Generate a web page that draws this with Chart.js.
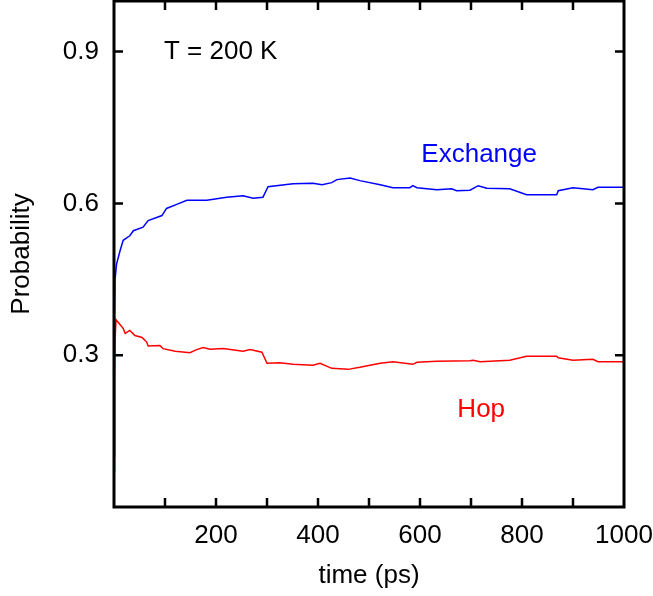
<!DOCTYPE html>
<html>
<head>
<meta charset="utf-8">
<script src="https://cdn.jsdelivr.net/npm/chart.js@4.4.1/dist/chart.umd.min.js"></script>
<style>
  html, body { margin: 0; padding: 0; background: #fff; }
  #wrap { width: 653px; height: 596px; }
</style>
</head>
<body>
<div id="wrap"><canvas id="probChart"></canvas></div>
<script>
const exchangeTime = [0, 1, 2, 5, 12, 18, 31, 38, 57, 67, 94, 103, 123, 143, 182, 221, 253, 273, 292, 302,
  351, 390, 408, 427, 437, 463, 482, 522, 547, 580, 586, 594, 633, 662, 672, 698, 714, 731, 776, 809,
  868, 871, 900, 939, 949, 1000];
const exchangeProb = [0.10, 0.35, 0.45, 0.48, 0.507, 0.527, 0.536, 0.546, 0.553, 0.566, 0.576, 0.59, 0.598, 0.606, 0.606, 0.612, 0.615, 0.61, 0.612, 0.633,
  0.639, 0.64, 0.637, 0.641, 0.647, 0.65, 0.645, 0.637, 0.631, 0.631, 0.635, 0.631, 0.627, 0.629, 0.625, 0.626, 0.635, 0.63, 0.629, 0.617,
  0.617, 0.625, 0.631, 0.627, 0.632, 0.632];

const hopTime = [0, 1, 2, 4, 8, 18, 22, 31, 41, 55, 64, 67, 90, 96, 120, 149, 162, 175, 188, 214,
  253, 267, 290, 300, 325, 351, 390, 404, 427, 459, 482, 522, 547, 586, 594, 633, 698, 704, 718, 776,
  809, 868, 871, 900, 939, 949, 1000];
const hopProb = [0.07, 0.25, 0.33, 0.37, 0.365, 0.353, 0.343, 0.349, 0.339, 0.335, 0.326, 0.318, 0.319, 0.313, 0.308, 0.305, 0.311, 0.315, 0.312, 0.313,
  0.308, 0.311, 0.306, 0.284, 0.285, 0.282, 0.28, 0.284, 0.274, 0.272, 0.276, 0.284, 0.287, 0.282, 0.286, 0.288, 0.289, 0.29, 0.287, 0.29,
  0.298, 0.298, 0.295, 0.29, 0.292, 0.287, 0.287];

const xMinorTicks = [100, 200, 300, 400, 500, 600, 700, 800, 900, 1000];
const xTickLabels = [200, 400, 600, 800, 1000];
const yTicks = [0.3, 0.6, 0.9];

// text placed in the plot (data coordinates, alphabetic baseline)
const plotLabels = [
  { text: "T = 200 K", x: 98, y: 0.885, color: "#000000", align: "left" },
  { text: "Exchange", x: 716, y: 0.682, color: "#0000ff", align: "center" },
  { text: "Hop", x: 720, y: 0.178, color: "#ff0000", align: "center" },
];

const FONT = "'Liberation Sans', Arial, sans-serif";
const FONT_SIZE = 26;

const toPoints = (xs, ys) => xs.map((x, i) => ({ x, y: ys[i] }));

const noPadding = (scale) => {
  scale.paddingTop = 0;
  scale.paddingBottom = 0;
  scale.paddingLeft = 0;
  scale.paddingRight = 0;
};

const framePlugin = {
  id: "frame",
  afterDatasetsDraw(chart) {
    const { ctx, chartArea: a, scales } = chart;
    ctx.save();
    ctx.strokeStyle = "#000";
    ctx.lineWidth = 2.5;
    ctx.beginPath();
    xMinorTicks.forEach((v) => {
      if (v >= 1000) return;
      const px = scales.x.getPixelForValue(v);
      ctx.moveTo(px, a.bottom);
      ctx.lineTo(px, a.bottom - 9);
      ctx.moveTo(px, a.top);
      ctx.lineTo(px, a.top + 9);
    });
    yTicks.forEach((v) => {
      const py = scales.y.getPixelForValue(v);
      ctx.moveTo(a.left, py);
      ctx.lineTo(a.left + 9, py);
      ctx.moveTo(a.right, py);
      ctx.lineTo(a.right - 9, py);
    });
    ctx.stroke();
    ctx.lineWidth = 3;
    ctx.strokeRect(a.left, a.top, a.right - a.left, a.bottom - a.top);

    ctx.font = `${FONT_SIZE}px ${FONT}`;
    ctx.textBaseline = "alphabetic";
    plotLabels.forEach((l) => {
      ctx.fillStyle = l.color;
      ctx.textAlign = l.align;
      ctx.fillText(l.text, scales.x.getPixelForValue(l.x), scales.y.getPixelForValue(l.y));
    });
    ctx.restore();
  },
};

new Chart(document.getElementById("probChart"), {
  type: "line",
  data: {
    datasets: [
      {
        label: "Exchange",
        data: toPoints(exchangeTime, exchangeProb),
        borderColor: "#0000ff",
        borderWidth: 1.5,
        pointRadius: 0,
        tension: 0,
      },
      {
        label: "Hop",
        data: toPoints(hopTime, hopProb),
        borderColor: "#ff0000",
        borderWidth: 1.5,
        pointRadius: 0,
        tension: 0,
      },
    ],
  },
  options: {
    responsive: true,
    maintainAspectRatio: false,
    animation: false,
    layout: { padding: { left: 0, right: 29, top: 1, bottom: 0 } },
    plugins: {
      legend: { display: false },
      tooltip: { enabled: false },
    },
    scales: {
      x: {
        type: "linear",
        min: 0,
        max: 1000,
        afterBuildTicks: (scale) => {
          scale.ticks = xMinorTicks.map((value) => ({ value }));
        },
        afterFit: (scale) => {
          scale.height = 89;
          noPadding(scale);
        },
        ticks: {
          color: "#000",
          font: { family: FONT, size: FONT_SIZE },
          padding: 13,
          maxRotation: 0,
          autoSkip: false,
          callback: (value) => (xTickLabels.includes(value) ? String(value) : ""),
        },
        grid: { display: false, drawTicks: false },
        border: { display: false },
        title: {
          display: true,
          text: "time (ps)",
          color: "#000",
          font: { family: FONT, size: FONT_SIZE },
          padding: { top: 0, bottom: 5 },
        },
      },
      y: {
        type: "linear",
        min: 0,
        max: 1,
        afterBuildTicks: (scale) => {
          scale.ticks = yTicks.map((value) => ({ value }));
        },
        afterFit: (scale) => {
          scale.width = 114;
          noPadding(scale);
        },
        ticks: {
          color: "#000",
          font: { family: FONT, size: FONT_SIZE },
          padding: 15,
          callback: (value) => value.toFixed(1),
        },
        grid: { display: false, drawTicks: false },
        border: { display: false },
        title: {
          display: true,
          text: "Probability",
          color: "#000",
          font: { family: FONT, size: FONT_SIZE },
          padding: { top: 6, bottom: 0 },
        },
      },
    },
  },
  plugins: [framePlugin],
});
</script>
</body>
</html>
